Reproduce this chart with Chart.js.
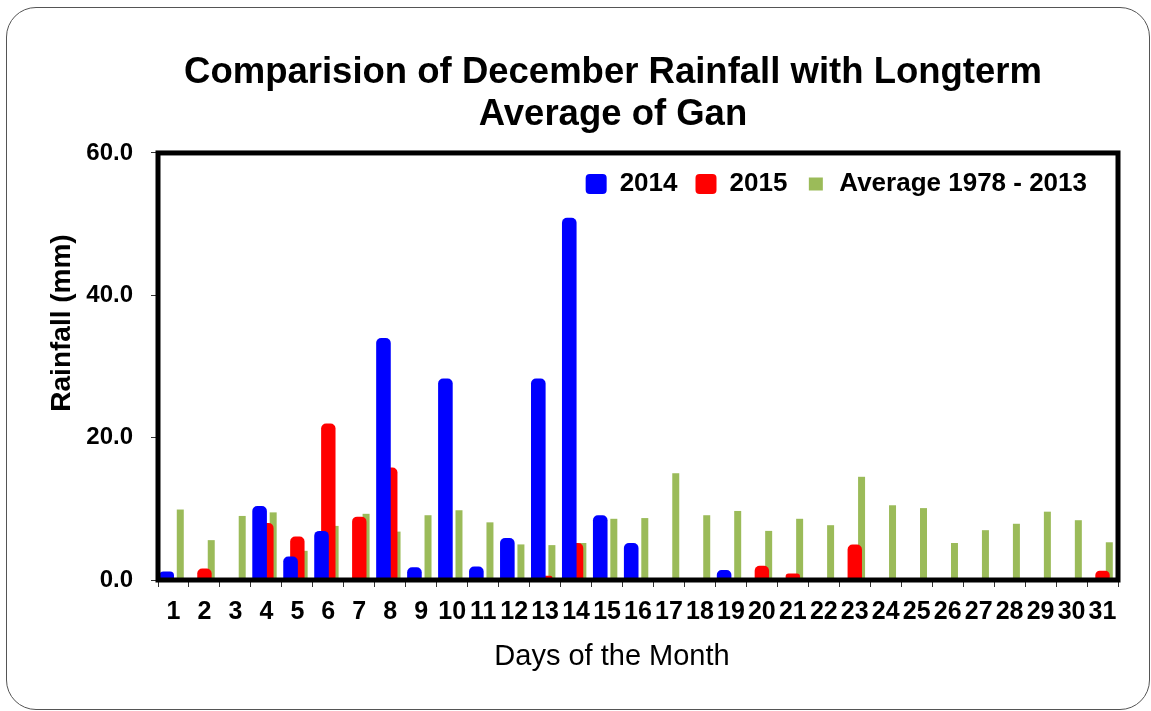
<!DOCTYPE html>
<html>
<head>
<meta charset="utf-8">
<script src="https://cdn.jsdelivr.net/npm/chart.js@4.4.1/dist/chart.umd.min.js"></script>
<style>
  html, body { margin: 0; padding: 0; background: #fff; }
  .frame {
    position: absolute; left: 6px; top: 7px; width: 1142px; height: 701px;
    border: 1px solid #555; border-radius: 30px;
  }
  .chart-box { position: absolute; left: 0; top: 0; width: 1151px; height: 711px; }
</style>
</head>
<body>
<div class="frame"></div>
<div class="chart-box"><canvas id="rain"></canvas></div>
<script>
const days = ['1','2','3','4','5','6','7','8','9','10','11','12','13','14','15','16',
  '17','18','19','20','21','22','23','24','25','26','27','28','29','30','31'];
const rain2014 = [1.2,0,0,10.4,3.3,6.9,0,34.0,1.8,28.3,1.9,5.9,28.3,50.9,9.1,5.2,
  0,0,1.4,0,0,0,0,0,0,0,0,0,0,0,0];
const rain2015 = [0,1.6,0,8.0,6.1,22.0,8.9,15.8,0,0,0,0,0.6,5.2,0,0,
  0,0,0,2.0,0.9,0,5.0,0,0,0,0,0,0,0,1.3];
const avg7813 = [9.9,5.6,9.0,9.5,4.1,7.6,9.3,6.8,9.1,9.8,8.1,5.0,4.9,5.2,8.6,8.7,
  15.0,9.1,9.7,6.9,8.6,7.7,14.5,10.5,10.1,5.2,7.0,7.9,9.6,8.4,5.3];
const yTicks = [0, 20, 40, 60];

const FONT = "'Liberation Sans', Arial, sans-serif";
const topRound = {topLeft: 5, topRight: 5, bottomLeft: 0, bottomRight: 0};

// legend sits inside the plot box, plus thick frame and the two axis titles
const framePlugin = {
  id: 'plotFrame',
  beforeInit(chart) {
    const lg = chart.legend;
    if (lg && !lg._patched) {
      const fit = lg.fit;
      lg.fit = function () { fit.call(this); this.height = 0; };
      lg.draw = function () { if (this.options.display) this._draw(); };
      lg._patched = true;
    }
  },
  afterLayout(chart) {
    if (chart.legend) chart.legend.right = chart.chartArea.right - 13;
  },
  afterDatasetsDraw(chart) {
    const {ctx, chartArea: a} = chart;
    ctx.save();
    ctx.strokeStyle = '#000';
    ctx.lineWidth = 5;
    ctx.strokeRect(a.left, a.top, a.right - a.left, a.bottom - a.top);
    ctx.restore();
  },
  afterDraw(chart) {
    const ctx = chart.ctx;
    ctx.save();
    ctx.fillStyle = '#000';
    ctx.textAlign = 'center';
    ctx.textBaseline = 'middle';
    ctx.font = '29px ' + FONT;
    ctx.fillText('Days of the Month', 612, 657);
    ctx.translate(62, 323);
    ctx.rotate(-Math.PI / 2);
    ctx.font = 'bold 28px ' + FONT;
    ctx.fillText('Rainfall (mm)', 0, 0);
    ctx.restore();
  }
};

new Chart(document.getElementById('rain'), {
  type: 'bar',
  data: {
    labels: days,
    datasets: [
      {label: '2014', data: rain2014, backgroundColor: '#0000FF',
        barPercentage: 2.15, categoryPercentage: 0.658, borderRadius: topRound, borderSkipped: 'start'},
      {label: '2015', data: rain2015, backgroundColor: '#FF0000',
        barPercentage: 2.12, categoryPercentage: 0.658, borderRadius: topRound, borderSkipped: 'start'},
      {label: 'Average 1978 - 2013', data: avg7813, backgroundColor: '#9BBB59',
        barPercentage: 1.03, categoryPercentage: 0.658}
    ]
  },
  options: {
    responsive: true,
    maintainAspectRatio: false,
    animation: false,
    layout: {padding: {left: 75, right: 0, top: 0, bottom: 0}},
    plugins: {
      tooltip: {enabled: false},
      title: {
        display: true,
        text: ['Comparision of December Rainfall with Longterm', 'Average of Gan'],
        color: '#000',
        font: {family: FONT, size: 36.5, weight: 'bold', lineHeight: 1.15},
        padding: {top: 52, bottom: 17}
      },
      legend: {
        position: 'top',
        align: 'end',
        fullSize: false,
        labels: {
          color: '#000',
          font: {family: FONT, size: 26, weight: 'bold'},
          boxWidth: 21,
          boxHeight: 20,
          padding: 18,
          useBorderRadius: true,
          borderRadius: 4,
          generateLabels(chart) {
            const items = Chart.defaults.plugins.legend.labels.generateLabels(chart);
            items.forEach((it, i) => {
              it.borderRadius = i === 2 ? 0 : 4;
              it.lineWidth = i === 2 ? 7 : 0;
              it.strokeStyle = '#fff';
            });
            return items;
          }
        }
      }
    },
    scales: {
      x: {
        grid: {display: true, drawOnChartArea: false, drawTicks: true, tickLength: 7, color: '#333', offset: true},
        border: {display: false},
        ticks: {color: '#000', font: {family: FONT, size: 25, weight: 'bold'},
          autoSkip: false, maxRotation: 0, padding: 10},
        afterFit(scale) { scale.height = 131; }
      },
      y: {
        min: 0, max: 60,
        afterBuildTicks(scale) { scale.ticks = yTicks.map(v => ({value: v})); },
        grid: {display: true, drawOnChartArea: false, drawTicks: true, tickLength: 7, color: '#333'},
        border: {display: false},
        ticks: {color: '#000', font: {family: FONT, size: 24, weight: 'bold'}, padding: 18,
          callback: v => v.toFixed(1)},
        afterFit(scale) { scale.width = 83; }
      },
      yRight: {
        position: 'right',
        display: true,
        grid: {display: false},
        border: {display: false},
        ticks: {display: false},
        afterFit(scale) { scale.width = 33; }
      }
    }
  },
  plugins: [framePlugin]
});
</script>
</body>
</html>
